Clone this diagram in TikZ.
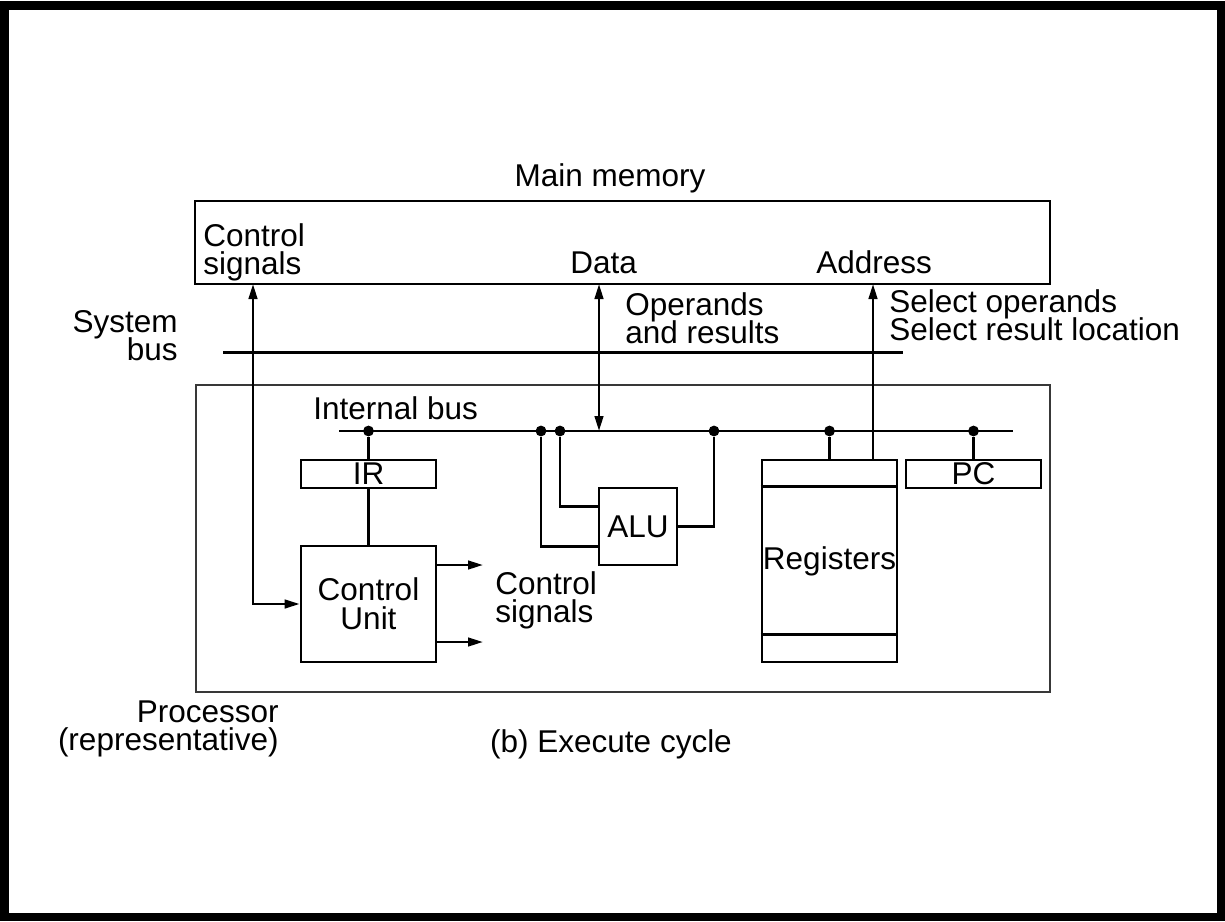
\documentclass[tikz,border=0pt]{standalone}
\usepackage{fontspec}
\setmainfont{Liberation Sans}
\usepackage{tikz}
\usetikzlibrary{arrows.meta,calc}

\begin{document}
\begin{tikzpicture}[x=0.5pt, y=-0.5pt,
        txt/.style={inner sep=0pt, font={\fontsize{15.75}{14.3}\selectfont\lineskiplimit=-10pt}},
        box/.style={draw, rectangle, line width=1.35pt, inner sep=0pt, txt},
        wire/.style={line width=1.25pt},
        arr/.style={wire, -{Triangle[length=7.5pt,width=4.3pt]}},
        biarr/.style={wire, {Triangle[length=7.5pt,width=4.3pt]}-{Triangle[length=7.5pt,width=4.3pt]}},
        dot/.style={circle, fill, inner sep=0pt, minimum size=5.4pt}]
        \useasboundingbox (0,0) rectangle (1225,921);
        \draw[line width=4.25pt] (4.25,5.5) rectangle (1220.75,916.75);

        \node (mem)  at (622.5,242.5) [box, minimum width=427.5pt, minimum height=41.5pt] {};
        \node (proc) at (623,538.5) [box, draw=black!78, line width=1pt, minimum width=427pt, minimum height=153.5pt] {};
        \node (ir)   at (368.5,474) [box, minimum width=67.5pt, minimum height=14pt] {IR};
        \node (cu)   at (368.5,604) [box, align=center, minimum width=67.5pt, minimum height=58pt] {Control\\Unit};
        \node (alu)  at (638,526.5) [box, minimum width=39pt, minimum height=38.5pt] {ALU};
        \node (regs) at (829.5,561) [box, minimum width=67.5pt, minimum height=101pt] {Registers};
        \node (pc)   at (973.5,474) [box, minimum width=67.5pt, minimum height=14pt] {PC};

        \node (memlbl)  at (610,186) [txt, anchor=base] {Main memory};
        \node (ctlmem)  at (203,223) [txt, anchor=north west, align=left] {Control\\signals};
        \node (datalbl) at (570,273) [txt, anchor=base west] {Data};
        \node (addrlbl) at (816,273) [txt, anchor=base west] {Address};
        \node (syslbl)  at (178,310) [txt, anchor=north east, align=right] {System\\bus};
        \node (oplbl)   at (625,292) [txt, anchor=north west, align=left] {Operands\\and results};
        \node (sellbl)  at (889,289) [txt, anchor=north west, align=left] {Select operands\\Select result location};
        \node (buslbl)  at (313,419) [txt, anchor=base west] {Internal bus};
        \node (ctlcu)   at (495,571) [txt, anchor=north west, align=left] {Control\\signals};
        \node (proclbl) at (279,700) [txt, anchor=north east, align=right] {Processor\\(representative)};
        \node (caption) at (611,752) [txt, anchor=base] {(b) Execute cycle};

        \coordinate (sysL) at (223,352);
        \coordinate (sysR) at (903,352);
        \coordinate (busL) at (339,431);
        \coordinate (busR) at (1013,431);
        \coordinate (ctltop) at (253,284);
        \coordinate (datatop) at (599,284);
        \coordinate (databus) at (599,431);
        \coordinate (addrtop) at (873,284);
        \coordinate (cs1) at (483,565);
        \coordinate (cs2) at (483,642);

        \node (d1) at (368.5,431) [dot] {};
        \node (d2) at (541,431) [dot] {};
        \node (d3) at (560,431) [dot] {};
        \node (d4) at (714,431) [dot] {};
        \node (d5) at (829.5,431) [dot] {};
        \node (d6) at (973.5,431) [dot] {};

        \draw[line width=1.5pt] (sysL) -- (sysR);
        \draw[wire] (busL) -- (busR);

        \draw[biarr] (cu.west) -| (ctltop);
        \draw[biarr] (datatop) -- (databus);
        \draw[arr] (regs.north -| addrtop) -- (addrtop);

        \draw[wire] (d1) -- (ir);
        \draw[wire] (ir) -- (cu);
        \draw[wire] (d5) -- (regs);
        \draw[wire] (d6) -- (pc);
        \draw[wire] (d3) |- ($(alu.north west)!0.25!(alu.south west)$);
        \draw[wire] (d2) |- ($(alu.north west)!0.75!(alu.south west)$);
        \draw[wire] (alu.east) -| (d4);
        \draw[arr] (cu.east |- cs1) -- (cs1);
        \draw[arr] (cu.east |- cs2) -- (cs2);

        \draw[line width=1.35pt] ($(regs.north west)+(0,28)$) -- ($(regs.north east)+(0,28)$);
        \draw[line width=1.35pt] ($(regs.south west)+(0,-29)$) -- ($(regs.south east)+(0,-29)$);
    \end{tikzpicture}
\end{document}
